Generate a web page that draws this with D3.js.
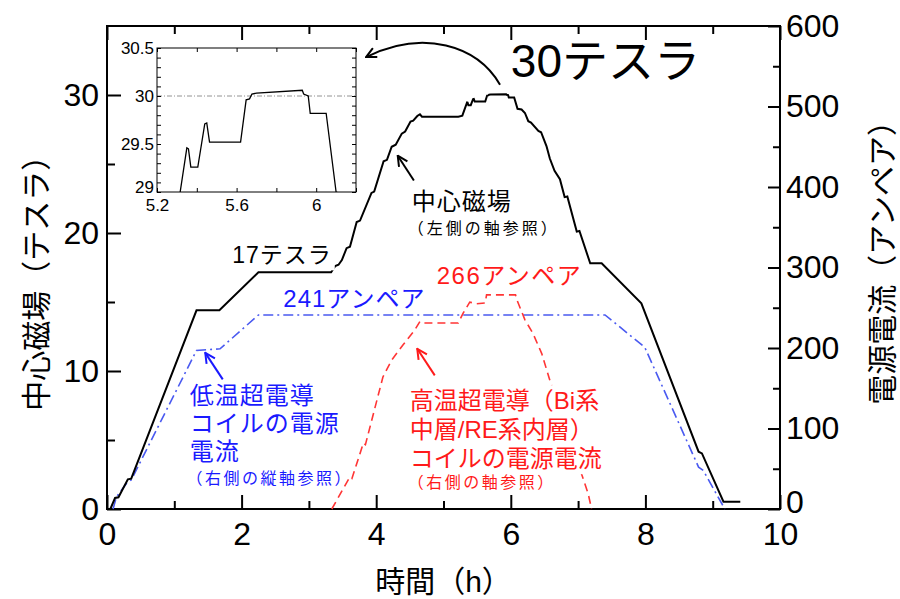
<!DOCTYPE html>
<html>
<head>
<meta charset="utf-8">
<script src="https://cdn.jsdelivr.net/npm/d3@7"></script>
<style>
  body { margin: 0; background: #fff; }
  text { font-family: "Liberation Sans", Arial, "Noto Sans CJK JP", sans-serif; }
</style>
</head>
<body>
<div id="chart-area"></div>
<script>
// 中心磁場 (テスラ) vs time (h)
const fieldTime = [0.05, 0.12, 0.17, 0.31, 0.36, 1.33, 1.67, 2.25, 3.33, 3.39, 3.44, 3.49, 3.56, 3.61, 3.71, 3.76,
    3.93, 3.97, 4.11, 4.16, 4.23, 4.29, 4.38, 4.43, 4.51, 4.55, 4.61, 4.65, 4.68, 5.22, 5.28,
    5.35, 5.358, 5.37, 5.405, 5.44, 5.45, 5.464, 5.62, 5.648, 5.665, 5.677, 5.70, 5.93, 5.937, 5.96, 5.97, 6.05, 6.10,
    6.16, 6.21, 6.26, 6.30, 6.41, 6.45, 6.53, 6.58, 6.65, 6.73, 6.80, 6.84, 6.98, 7.02, 7.18, 7.35, 7.94, 8.79, 8.84, 9.16, 9.41];
const fieldTesla = [0, 0.8, 0.85, 2.15, 2.2, 14.4, 14.4, 17.15, 17.15, 17.6, 17.7, 18.04, 18.9, 19.0, 20.8, 20.9,
    22.9, 23.0, 25.2, 25.3, 26.25, 26.4, 27.2, 27.35, 28.07, 28.14, 28.48, 28.6, 28.43, 28.43, 28.5,
    29.46, 29.45, 29.26, 29.26, 29.71, 29.72, 29.52, 29.52, 29.96, 29.97, 30.02, 30.03, 30.06, 30.02, 30.0, 29.82, 29.82, 29.0,
    28.95, 28.7, 28.1, 28.0, 27.4, 27.3, 26.3, 25.4, 24.5, 23.9, 22.6, 22.65, 20.1, 20.15, 17.8, 17.8, 14.9, 4.15, 4.03, 0.53, 0.53];

// 低温超電導コイル 電源電流 (アンペア)
const ltsTime = [0.09, 0.14, 0.30, 0.36, 1.33, 1.68, 2.25, 7.40, 7.99, 8.79, 8.86, 9.18];
const ltsAmp = [0, 15, 33, 36, 197, 199, 241, 241, 201, 52, 48, 0];

// 高温超電導コイル 電源電流 (アンペア)
const htsTime = [3.34, 3.61, 3.64, 3.81, 3.84, 4.10, 4.23, 4.40, 4.57, 4.65, 4.70, 5.22, 5.29, 5.39, 5.49, 5.62, 5.64,
    6.07, 6.09, 6.21, 6.33, 6.46, 6.58, 7.15, 7.20];
const htsAmp = [0, 40, 38, 82, 80, 164, 185, 204, 222, 233, 231, 231, 243, 257, 255, 256, 266,
    266, 260, 235, 218, 193, 160, 19, 0];

const xTicks = [0, 2, 4, 6, 8, 10];
const xMinor = [1, 3, 5, 7, 9];
const leftTicks = [0, 10, 20, 30];
const leftMinor = [5, 15, 25];
const rightTicks = [0, 100, 200, 300, 400, 500, 600];
const rightMinor = [50, 150, 250, 350, 450, 550];
const insetXTicks = [5.2, 5.6, 6.0];
const insetYTicks = [29, 29.5, 30, 30.5];

const svg = d3.select('#chart-area')
    .append('svg')
    .attr('width', 900)
    .attr('height', 599);

// scales
const x = d3.scaleLinear().domain([0, 10]).range([107, 780]);
const yL = d3.scaleLinear().domain([0, 35]).range([509, 26]);
const yR = d3.scaleLinear().domain([0, 600]).range([509, 26]);

const field = fieldTime.map((t, i) => [t, fieldTesla[i]]);
const lts = ltsTime.map((t, i) => [t, ltsAmp[i]]);
const hts = htsTime.map((t, i) => [t, htsAmp[i]]);

function styleAxis(g, size) {
    g.select('.domain').remove();
    g.selectAll('line').attr('stroke', '#000').attr('stroke-width', 2);
    g.selectAll('text').attr('fill', '#000').style('font-size', size + 'px');
}

// axes
svg.append('g').attr('transform', 'translate(0,509)')
    .call(d3.axisBottom(x).tickValues(xTicks).tickSize(-14).tickPadding(13).tickFormat(d3.format('d')))
    .call(g => styleAxis(g, 32));
svg.append('g').attr('transform', 'translate(0,509)')
    .call(d3.axisBottom(x).tickValues(xMinor).tickSize(-8).tickFormat(''))
    .call(g => styleAxis(g, 0));
svg.append('g').attr('transform', 'translate(0,26)')
    .call(d3.axisTop(x).tickValues(xTicks).tickSize(-14).tickFormat(''))
    .call(g => styleAxis(g, 0));
svg.append('g').attr('transform', 'translate(0,26)')
    .call(d3.axisTop(x).tickValues(xMinor).tickSize(-8).tickFormat(''))
    .call(g => styleAxis(g, 0));
svg.append('g').attr('transform', 'translate(107,0)')
    .call(d3.axisLeft(yL).tickValues(leftTicks).tickSize(-14).tickPadding(8))
    .call(g => styleAxis(g, 32));
svg.append('g').attr('transform', 'translate(107,0)')
    .call(d3.axisLeft(yL).tickValues(leftMinor).tickSize(-8).tickFormat(''))
    .call(g => styleAxis(g, 0));
svg.append('g').attr('transform', 'translate(780,0)')
    .call(d3.axisRight(yR).tickValues(rightTicks).tickSize(-12).tickPadding(6))
    .call(g => styleAxis(g, 32))
    .call(g => g.selectAll('.tick text').filter(d => d === 0).attr('dy', '0.1em'));
svg.append('g').attr('transform', 'translate(780,0)')
    .call(d3.axisRight(yR).tickValues(rightMinor).tickSize(-7).tickFormat(''))
    .call(g => styleAxis(g, 0));

// frame
svg.append('rect')
    .attr('x', 107).attr('y', 26).attr('width', 673).attr('height', 483)
    .attr('fill', 'none').attr('stroke', '#000').attr('stroke-width', 2);

// axis titles
svg.append('text')
    .attr('transform', 'translate(47,' + (yL(16.9)) + ') rotate(-90)')
    .attr('text-anchor', 'middle')
    .style('font-size', '30px')
    .text('中心磁場（テスラ）');
svg.append('text')
    .attr('transform', 'translate(893,' + (yR(315)) + ') rotate(-90)')
    .attr('text-anchor', 'middle')
    .style('font-size', '30px')
    .text('電源電流（アンペア）');
svg.append('text')
    .attr('x', x(5)).attr('y', 592)
    .attr('text-anchor', 'middle')
    .style('font-size', '30px')
    .text('時間（h）');

// lines
const lineL = d3.line().x(d => x(d[0])).y(d => yL(d[1]));
const lineR = d3.line().x(d => x(d[0])).y(d => yR(d[1]));

svg.append('path').datum(lts)
    .attr('d', lineR).attr('fill', 'none')
    .attr('stroke', '#4a5af0').attr('stroke-width', 1.6)
    .attr('stroke-dasharray', '10,4,2,4');
svg.append('path').datum(hts)
    .attr('d', lineR).attr('fill', 'none')
    .attr('stroke', '#ff3535').attr('stroke-width', 1.6)
    .attr('stroke-dasharray', '8,5');
svg.append('path').datum(field)
    .attr('d', lineL).attr('fill', 'none')
    .attr('stroke', '#000').attr('stroke-width', 2);

// arrow marker
svg.append('defs').append('marker')
    .attr('id', 'head')
    .attr('viewBox', '0 0 12 12')
    .attr('refX', 11).attr('refY', 6)
    .attr('markerWidth', 12).attr('markerHeight', 12)
    .attr('markerUnits', 'userSpaceOnUse')
    .attr('orient', 'auto')
    .append('path')
    .attr('d', 'M1,1 L11,6 L1,11')
    .attr('fill', 'none').attr('stroke', 'context-stroke').attr('stroke-width', 2);

function label(lines, t, y0, step, color, size, bg, spacing) {
    const g = svg.append('g');
    const txt = g.append('text').attr('fill', color).style('font-size', size + 'px')
        .style('letter-spacing', (spacing || 0) + 'px');
    lines.forEach((s, i) => {
        txt.append('tspan').attr('x', x(t)).attr('y', y0 + i * step).text(s);
    });
    if (bg) {
        const b = txt.node().getBBox();
        g.insert('rect', 'text')
            .attr('x', b.x - 3).attr('y', b.y - 2)
            .attr('width', b.width + 6).attr('height', b.height + 4)
            .attr('fill', '#fff');
    }
    return g;
}

// annotations
label(['17テスラ'], 1.86, yL(17.8), 0, '#000', 23, true, 1);
label(['241アンペア'], 2.62, yR(251), 0, '#1a1aff', 24, false, 1);
label(['266アンペア'], 4.90, yR(280), 0, '#ff1a1a', 24, false, 1.5);
label(['中心磁場'], 4.53, yL(21.7), 0, '#000', 24, false, 1);
label(['（左側の軸参照）'], 4.47, yL(19.9), 0, '#000', 16, false, 3);
label(['低温超電導', 'コイルの電源', '電流'], 1.23, yR(130), 28, '#1a1aff', 24, false, 1);
label(['（右側の縦軸参照）'], 1.18, yR(31), 0, '#1a1aff', 16, false, 2.5);
label(['高温超電導（Bi系', '中層/RE系内層）', 'コイルの電源電流'], 4.5, yR(124), 29, '#ff1a1a', 24, true);
label(['（右側の軸参照）'], 4.47, yR(26), 0, '#ff1a1a', 16, false, 2.5);

function arrow(t0, v0, t1, v1, sc, color) {
    svg.append('line')
        .attr('x1', x(t0)).attr('y1', sc(v0))
        .attr('x2', x(t1)).attr('y2', sc(v1))
        .attr('stroke', color).attr('stroke-width', 2)
        .attr('marker-end', 'url(#head)');
}
arrow(4.56, 23.8, 4.32, 25.6, yL, '#000');
arrow(1.72, 161, 1.46, 194, yR, '#1a1aff');
arrow(4.87, 166, 4.61, 199, yR, '#ff1a1a');

// inset
const xi = d3.scaleLinear().domain([5.2, 6.2]).range([157, 356]);
const yi = d3.scaleLinear().domain([29, 30.5]).range([192, 48]);

svg.append('rect')
    .attr('x', 157).attr('y', 48).attr('width', 199).attr('height', 144)
    .attr('fill', '#fff');

svg.append('clipPath').attr('id', 'insetClip')
    .append('rect').attr('x', 157).attr('y', 48).attr('width', 199).attr('height', 144);

svg.append('line')
    .attr('x1', 157).attr('x2', 356).attr('y1', yi(30)).attr('y2', yi(30))
    .attr('stroke', '#777').attr('stroke-width', 0.8)
    .attr('stroke-dasharray', '5,2,1,2');

svg.append('path').datum(field)
    .attr('clip-path', 'url(#insetClip)')
    .attr('d', d3.line().x(d => xi(d[0])).y(d => yi(d[1])))
    .attr('fill', 'none').attr('stroke', '#000').attr('stroke-width', 1.3);

const iStyle = g => {
    g.select('.domain').remove();
    g.selectAll('line').attr('stroke', '#000').attr('stroke-width', 1);
    g.selectAll('text').attr('fill', '#000').style('font-size', '17px');
};
const insetXMinor = d3.range(5.2, 6.21, 0.2);
const insetYMinor = d3.range(29, 30.51, 0.1);
svg.append('g').attr('transform', 'translate(0,192)')
    .call(d3.axisBottom(xi).tickValues(insetXTicks).tickSize(0).tickPadding(7).tickFormat(d3.format('~g')))
    .call(iStyle);
svg.append('g').attr('transform', 'translate(0,192)')
    .call(d3.axisBottom(xi).tickValues(insetXMinor).tickSize(-4).tickFormat(''))
    .call(iStyle);
svg.append('g').attr('transform', 'translate(0,48)')
    .call(d3.axisTop(xi).tickValues(insetXMinor).tickSize(-4).tickFormat(''))
    .call(iStyle);
svg.append('g').attr('transform', 'translate(157,0)')
    .call(d3.axisLeft(yi).tickValues(insetYTicks).tickSize(0).tickPadding(3).tickFormat(d3.format('~g')))
    .call(iStyle)
    .call(g => g.selectAll('.tick text').filter(d => d === 29).attr('dy', '0.05em'));
svg.append('g').attr('transform', 'translate(157,0)')
    .call(d3.axisLeft(yi).tickValues(insetYMinor).tickSize(-4).tickFormat(''))
    .call(iStyle);
svg.append('g').attr('transform', 'translate(356,0)')
    .call(d3.axisRight(yi).tickValues(insetYMinor).tickSize(-4).tickFormat(''))
    .call(iStyle);

svg.append('rect')
    .attr('x', 157).attr('y', 48).attr('width', 199).attr('height', 144)
    .attr('fill', 'none').attr('stroke', '#000').attr('stroke-width', 1);

// 30テスラ callout
svg.append('text')
    .attr('x', x(6.0)).attr('y', yL(31.3))
    .style('font-size', '46px')
    .text('30テスラ');

svg.append('path')
    .attr('d', 'M' + x(5.84) + ',' + yL(30.75)
        + ' C' + x(5.5) + ',' + yL(33.6) + ' ' + x(4.7) + ',' + yL(34.8) + ' ' + x(3.85) + ',' + yL(32.75))
    .attr('fill', 'none').attr('stroke', '#000').attr('stroke-width', 2)
    .attr('marker-end', 'url(#head)');
</script>
</body>
</html>
